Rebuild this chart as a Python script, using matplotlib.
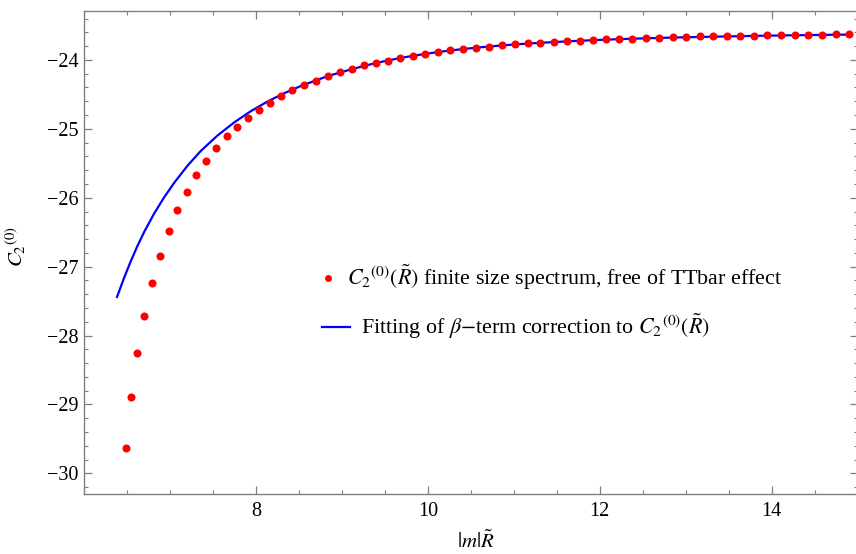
import matplotlib
matplotlib.use("Agg")
import matplotlib.pyplot as plt
from matplotlib.ticker import MultipleLocator, FixedLocator

plt.rcParams["font.family"] = ["Liberation Serif", "DejaVu Serif"]
plt.rcParams["mathtext.fontset"] = "stix"

# finite size spectrum points
spec_x = [6.488, 6.550, 6.620, 6.701, 6.791, 6.884, 6.983, 7.085, 7.194, 7.308,
          7.421, 7.538, 7.659, 7.779, 7.907, 8.033, 8.160, 8.293, 8.424, 8.562,
          8.694, 8.834, 8.973, 9.113, 9.252, 9.392, 9.535, 9.678, 9.826, 9.969,
          10.113, 10.259, 10.407, 10.556, 10.706, 10.857, 11.008, 11.159, 11.310, 11.462,
          11.613, 11.764, 11.919, 12.070, 12.224, 12.380, 12.535, 12.683, 12.849, 13.003,
          13.163, 13.317, 13.477, 13.631, 13.791, 13.950, 14.108, 14.267, 14.427, 14.585,
          14.744, 14.903]
spec_y = [-29.63, -28.89, -28.26, -27.71, -27.24, -26.84, -26.49, -26.18, -25.91, -25.67,
          -25.46, -25.28, -25.11, -24.97, -24.84, -24.73, -24.63, -24.53, -24.44, -24.36,
          -24.30, -24.23, -24.17, -24.13, -24.08, -24.04, -24.01, -23.97, -23.94, -23.91,
          -23.88, -23.86, -23.84, -23.82, -23.81, -23.79, -23.77, -23.76, -23.75, -23.74,
          -23.73, -23.72, -23.71, -23.70, -23.69, -23.69, -23.68, -23.68, -23.67, -23.67,
          -23.66, -23.66, -23.65, -23.65, -23.65, -23.64, -23.64, -23.64, -23.64, -23.64,
          -23.63, -23.63]

# beta-term fit
fit_x = [6.384, 6.469, 6.547, 6.624, 6.701, 6.817, 6.934, 7.050, 7.206, 7.360,
         7.555, 7.748, 7.942, 8.136, 8.329, 8.523, 8.834, 9.113, 9.392, 9.678,
         9.969, 10.259, 10.556, 10.857, 11.159, 11.462, 11.764, 12.070, 12.380, 12.683,
         13.003, 13.317, 13.631, 13.950, 14.267, 14.585, 14.903]
fit_y = [-27.440, -27.155, -26.913, -26.694, -26.494, -26.227, -25.991, -25.782, -25.532, -25.319,
         -25.095, -24.906, -24.743, -24.603, -24.483, -24.378, -24.235, -24.135, -24.045, -23.972,
         -23.912, -23.863, -23.823, -23.790, -23.763, -23.741, -23.722, -23.706, -23.692, -23.681,
         -23.671, -23.663, -23.655, -23.648, -23.642, -23.637, -23.632]

W, H = 856, 554
fig = plt.figure(figsize=(W / 100, H / 100), dpi=100)
ax = fig.add_axes([84 / W, (H - 494) / H, (W - 84) / W + 0.002, (494 - 11) / H])

ax.plot(fit_x, fit_y, color="#0000ff", lw=1.6, zorder=2)
ax.plot(spec_x, spec_y, "o", color="#ff0000", ms=5.8, mec="none", zorder=3)

ax.set_xlim(6.0, 15.0)
ax.set_ylim(-30.3, -23.29)
ax.xaxis.set_major_locator(FixedLocator([8, 10, 12, 14]))
ax.xaxis.set_minor_locator(MultipleLocator(0.5))
ax.yaxis.set_major_locator(MultipleLocator(1))
ax.yaxis.set_minor_locator(MultipleLocator(0.2))

gray = "#7f7f7f"
for s in ax.spines.values():
    s.set_color(gray)
    s.set_linewidth(1.0)
ax.tick_params(which="both", direction="in", color=gray, top=True, right=True,
               labelsize=14.5, labelcolor="black")
ax.tick_params(which="major", length=5.5, width=0.9)
ax.tick_params(which="minor", length=3, width=0.8)
ax.tick_params(axis="x", pad=6)
ax.tick_params(axis="y", pad=4)

ax.set_xlabel(r"$|m|\tilde{R}$", fontsize=15)
ax.set_ylabel(r"$C_2{}^{(0)}$", fontsize=15)
ax.xaxis.label.set_va("center")
ax.yaxis.label.set_va("center")
ax.xaxis.set_label_coords((475 - 84) / (W - 84), -(542 - 494) / (494 - 11))
ax.yaxis.set_label_coords((16 - 84) / (W - 84), (494 - 247) / (494 - 11))

# legend drawn by hand in figure pixels
def fpos(px, py):
    return px / W, 1 - py / H

fig.lines.append(plt.Line2D([fpos(328.3, 0)[0]], [fpos(0, 277.7)[1]], marker="o",
                            color="#ff0000", ms=5.0, mec="none", transform=fig.transFigure))
fig.lines.append(plt.Line2D([fpos(322, 0)[0], fpos(350, 0)[0]], [fpos(0, 326.7)[1]] * 2,
                            color="#0000ff", lw=1.6, transform=fig.transFigure))
fig.text(*fpos(346.7, 277.7), r"$C_2{}^{(0)}(\tilde{R})$ finite size spectrum, free of TTbar effect",
         fontsize=15.8, va="center", ha="left")
fig.text(*fpos(361, 326.7), r"Fitting of $\beta$$-$term correction to $C_2{}^{(0)}(\tilde{R})$",
         fontsize=15.8, va="center", ha="left")

fig.savefig("out.png", dpi=100)
